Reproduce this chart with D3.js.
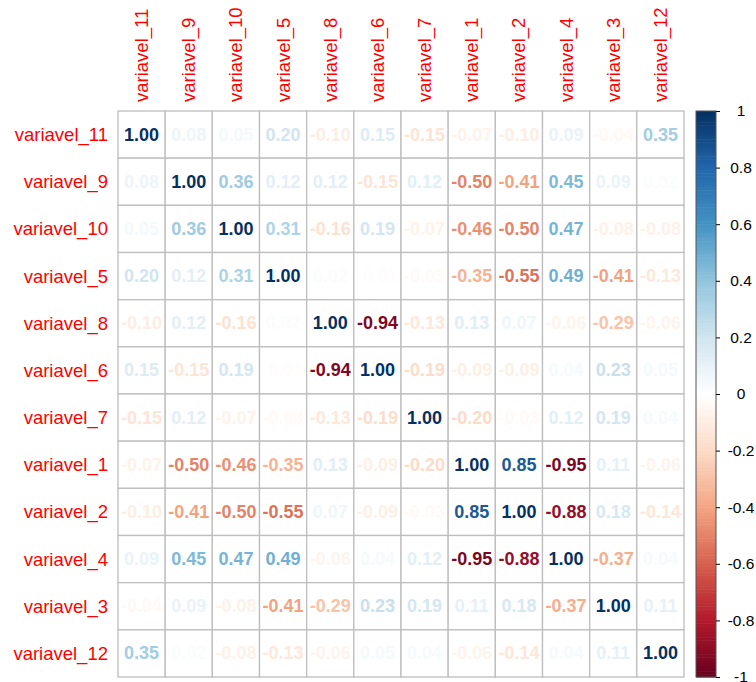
<!DOCTYPE html>
<html>
<head>
<meta charset="utf-8">
<script src="https://cdn.jsdelivr.net/npm/d3@7"></script>
<style>
  html, body { margin: 0; padding: 0; background: #ffffff; }
  svg { display: block; }
  text { font-family: "Liberation Sans", Arial, sans-serif; }
</style>
</head>
<body>
<svg id="chart" width="756" height="682"></svg>
<script>
// Variable order (same for rows and columns)
const variables = ["variavel_11", "variavel_9", "variavel_10", "variavel_5", "variavel_8", "variavel_6",
                   "variavel_7", "variavel_1", "variavel_2", "variavel_4", "variavel_3", "variavel_12"];

// Correlation coefficients, one row per variable
const row_11 = [ 1.00,  0.08,  0.05,  0.20, -0.10,  0.15, -0.15, -0.07, -0.10,  0.09, -0.04,  0.35];
const row_9  = [ 0.08,  1.00,  0.36,  0.12,  0.12, -0.15,  0.12, -0.50, -0.41,  0.45,  0.09,  0.02];
const row_10 = [ 0.05,  0.36,  1.00,  0.31, -0.16,  0.19, -0.07, -0.46, -0.50,  0.47, -0.08, -0.08];
const row_5  = [ 0.20,  0.12,  0.31,  1.00,  0.02, -0.01, -0.03, -0.35, -0.55,  0.49, -0.41, -0.13];
const row_8  = [-0.10,  0.12, -0.16,  0.02,  1.00, -0.94, -0.13,  0.13,  0.07, -0.06, -0.29, -0.06];
const row_6  = [ 0.15, -0.15,  0.19, -0.01, -0.94,  1.00, -0.19, -0.09, -0.09,  0.04,  0.23,  0.05];
const row_7  = [-0.15,  0.12, -0.07, -0.03, -0.13, -0.19,  1.00, -0.20, -0.03,  0.12,  0.19,  0.04];
const row_1  = [-0.07, -0.50, -0.46, -0.35,  0.13, -0.09, -0.20,  1.00,  0.85, -0.95,  0.11, -0.06];
const row_2  = [-0.10, -0.41, -0.50, -0.55,  0.07, -0.09, -0.03,  0.85,  1.00, -0.88,  0.18, -0.14];
const row_4  = [ 0.09,  0.45,  0.47,  0.49, -0.06,  0.04,  0.12, -0.95, -0.88,  1.00, -0.37,  0.04];
const row_3  = [-0.04,  0.09, -0.08, -0.41, -0.29,  0.23,  0.19,  0.11,  0.18, -0.37,  1.00,  0.11];
const row_12 = [ 0.35,  0.02, -0.08, -0.13, -0.06,  0.05,  0.04, -0.06, -0.14,  0.04,  0.11,  1.00];

const matrixRows = [row_11, row_9, row_10, row_5, row_8, row_6, row_7, row_1, row_2, row_4, row_3, row_12];

// Colour legend ticks
const legendTicks = [1, 0.8, 0.6, 0.4, 0.2, 0, -0.2, -0.4, -0.6, -0.8, -1];

// Diverging red-blue palette
const paletteStops = ["#67001F", "#B2182B", "#D6604D", "#F4A582", "#FDDBC7", "#FFFFFF",
                      "#D1E5F0", "#92C5DE", "#4393C3", "#2166AC", "#053061"];
const color = d3.scaleLinear()
  .domain(d3.range(paletteStops.length).map(i => -1 + 2 * i / (paletteStops.length - 1)))
  .range(paletteStops)
  .interpolate(d3.interpolateRgb)
  .clamp(true);

// Plain ASCII hyphen for negative numbers
const fmtCell = v => v.toFixed(2);
const fmtTick = v => String(v);

const svg = d3.select("#chart");

const grid = { left: 118, top: 111, size: 566 };
const x = d3.scaleBand().domain(variables).range([grid.left, grid.left + grid.size]);
const y = d3.scaleBand().domain(variables).range([grid.top, grid.top + grid.size]);

const cells = [];
matrixRows.forEach((vals, i) => {
  vals.forEach((v, j) => cells.push({ row: variables[i], col: variables[j], value: v }));
});

// Cell backgrounds and grid
svg.append("g").selectAll("rect")
  .data(cells)
  .join("rect")
  .attr("x", d => x(d.col))
  .attr("y", d => y(d.row))
  .attr("width", x.bandwidth())
  .attr("height", y.bandwidth())
  .attr("fill", "#ffffff")
  .attr("stroke", "#bebebe")
  .attr("stroke-width", 1.3);

// Coefficient labels
svg.append("g").selectAll("text")
  .data(cells)
  .join("text")
  .attr("x", d => x(d.col) + x.bandwidth() / 2)
  .attr("y", d => y(d.row) + y.bandwidth() / 2)
  .attr("text-anchor", "middle")
  .attr("dominant-baseline", "central")
  .attr("font-size", 18)
  .attr("font-weight", "bold")
  .attr("fill", d => color(d.value))
  .text(d => fmtCell(d.value));

// Row labels
svg.append("g").selectAll("text")
  .data(variables)
  .join("text")
  .attr("x", grid.left - 10)
  .attr("y", d => y(d) + y.bandwidth() / 2)
  .attr("text-anchor", "end")
  .attr("dominant-baseline", "central")
  .attr("font-size", 18.5)
  .attr("fill", "#ff0000")
  .text(d => d);

// Column labels (vertical)
svg.append("g").selectAll("text")
  .data(variables)
  .join("text")
  .attr("transform", d => `translate(${x(d) + x.bandwidth() / 2},${grid.top - 9}) rotate(-90)`)
  .attr("text-anchor", "start")
  .attr("dominant-baseline", "central")
  .attr("font-size", 18.5)
  .attr("fill", "#ff0000")
  .text(d => d);

// Colour legend
const legend = { x: 696, width: 20, top: grid.top, bottom: grid.top + grid.size };
const ly = d3.scaleLinear().domain([1, -1]).range([legend.top, legend.bottom]);
const nSteps = 200;
const steps = d3.range(nSteps).map(i => -1 + (2 * (i + 0.5)) / nSteps);
const stepH = (legend.bottom - legend.top) / nSteps;
svg.append("g").selectAll("rect")
  .data(steps)
  .join("rect")
  .attr("x", legend.x)
  .attr("y", d => ly(d) - stepH / 2)
  .attr("width", legend.width)
  .attr("height", stepH + 0.5)
  .attr("fill", d => color(d));

svg.append("rect")
  .attr("x", legend.x)
  .attr("y", legend.top)
  .attr("width", legend.width)
  .attr("height", legend.bottom - legend.top)
  .attr("fill", "none")
  .attr("stroke", "#555555")
  .attr("stroke-width", 1);

const axis = d3.axisRight(ly).tickValues(legendTicks).tickSize(4).tickPadding(0).tickFormat(fmtTick);
const axisG = svg.append("g")
  .attr("transform", `translate(${legend.x + legend.width},0)`)
  .call(axis);
axisG.select(".domain").remove();
axisG.selectAll(".tick line").attr("stroke", "#000000");
axisG.selectAll(".tick text")
  .attr("x", 25)
  .attr("text-anchor", "middle")
  .attr("font-size", 15.5)
  .attr("font-family", "Liberation Sans, Arial, sans-serif")
  .attr("fill", "#000000");
</script>
</body>
</html>
